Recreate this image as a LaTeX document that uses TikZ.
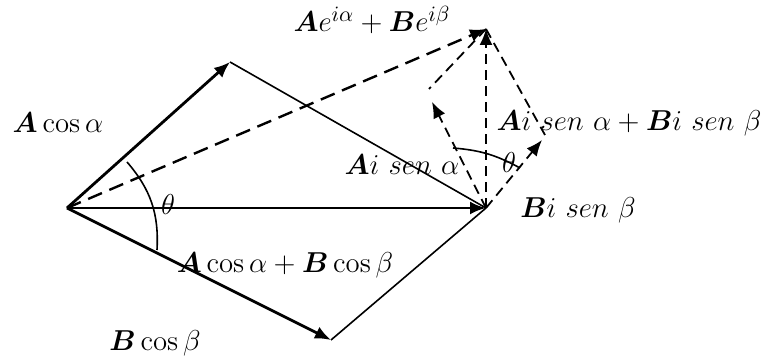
\documentclass[tikz,border=0pt]{standalone}
\usepackage{amsmath,amssymb}
\usepackage{tikz}
\usetikzlibrary{arrows.meta}

\begin{document}
\begin{tikzpicture}[x=5pt,y=5pt,>={Latex[length=8pt,width=6.5pt]},
  font=\fontsize{15.5}{18}\selectfont,
  vec/.style={line width=1.4pt,->},
  side/.style={line width=0.8pt},
  bigdash/.style={line width=1.2pt,dash pattern=on 7.5pt off 4pt,->},
  smalldash/.style={line width=0.9pt,dash pattern=on 5pt off 3pt}]
  \useasboundingbox (-6.7,-14.9) rectangle (69.7,20.8);
  \coordinate (O) at (0,0); % common origin
  \coordinate (A) at (16.3,14.6); % tip of A cos alpha
  \coordinate (B) at (26.4,-13.2); % tip of B cos beta
  \coordinate (P) at (41.9,0); % tip of the real sum
  \coordinate (R) at (41.9,17.9); % tip of the resultant
  \coordinate (Ai) at (36.5,10.6); % tip of A i sen alpha
  \coordinate (Bi) at (47.5,6.8); % tip of B i sen beta
  \coordinate (cA) at (36.2,11.9); % corner of the dashed parallelogram (left)
  \coordinate (cB) at (47.8,7.3); % corner of the dashed parallelogram (right)
  \draw[vec] (O) -- (A); % vector A cos alpha
  \draw[vec] (O) -- (B); % vector B cos beta
  \draw[vec] (O) -- (P); % sum of the cosines
  \draw[side] (A) -- (P); % side of the parallelogram (upper)
  \draw[side] (B) -- (P); % side of the parallelogram (lower)
  \draw[bigdash] (O) -- (R); % resultant
  \draw[smalldash,->] (P) -- (R); % sum of the sines
  \draw[smalldash,->] (P) -- (Ai); % vector A i sen alpha
  \draw[smalldash,->] (P) -- (Bi); % vector B i sen beta
  \draw[smalldash] (R) -- (cA); % dashed side (left)
  \draw[smalldash] (R) -- (cB); % dashed side (right)
  \draw[side] (6.0,4.6) to[bend left=22] (9.0,-4.2); % angle mark at the origin
  \draw[side] (38.6,6.0) to[bend left=12] (45.3,4.0); % angle mark at the sum
  \node (th1) at (10.1,0.3) {$\theta$}; % angle at the origin
  \node (th2) at (44.2,4.5) {$\theta$}; % angle between the sines
  \node (lA) at (-0.9,8.5) {$\boldsymbol{A}\cos\alpha$};
  \node (lB) at (8.8,-13.5) {$\boldsymbol{B}\cos\beta$};
  \node (lP) at (21.8,-5.7) {$\boldsymbol{A}\cos\alpha+\boldsymbol{B}\cos\beta$};
  \node (lAi) at (33.5,4.3) {$\boldsymbol{A}i\ sen\ \alpha$};
  \node (lR) at (30.5,18.8) {$\boldsymbol{A}e^{i\alpha}+\boldsymbol{B}e^{i\beta}$};
  \node (lS) at (56.2,8.5) {$\boldsymbol{A}i\ sen\ \alpha+\boldsymbol{B}i\ sen\ \beta$};
  \node (lBi) at (51.1,-0.2) {$\boldsymbol{B}i\ sen\ \beta$};
\end{tikzpicture}
\end{document}
